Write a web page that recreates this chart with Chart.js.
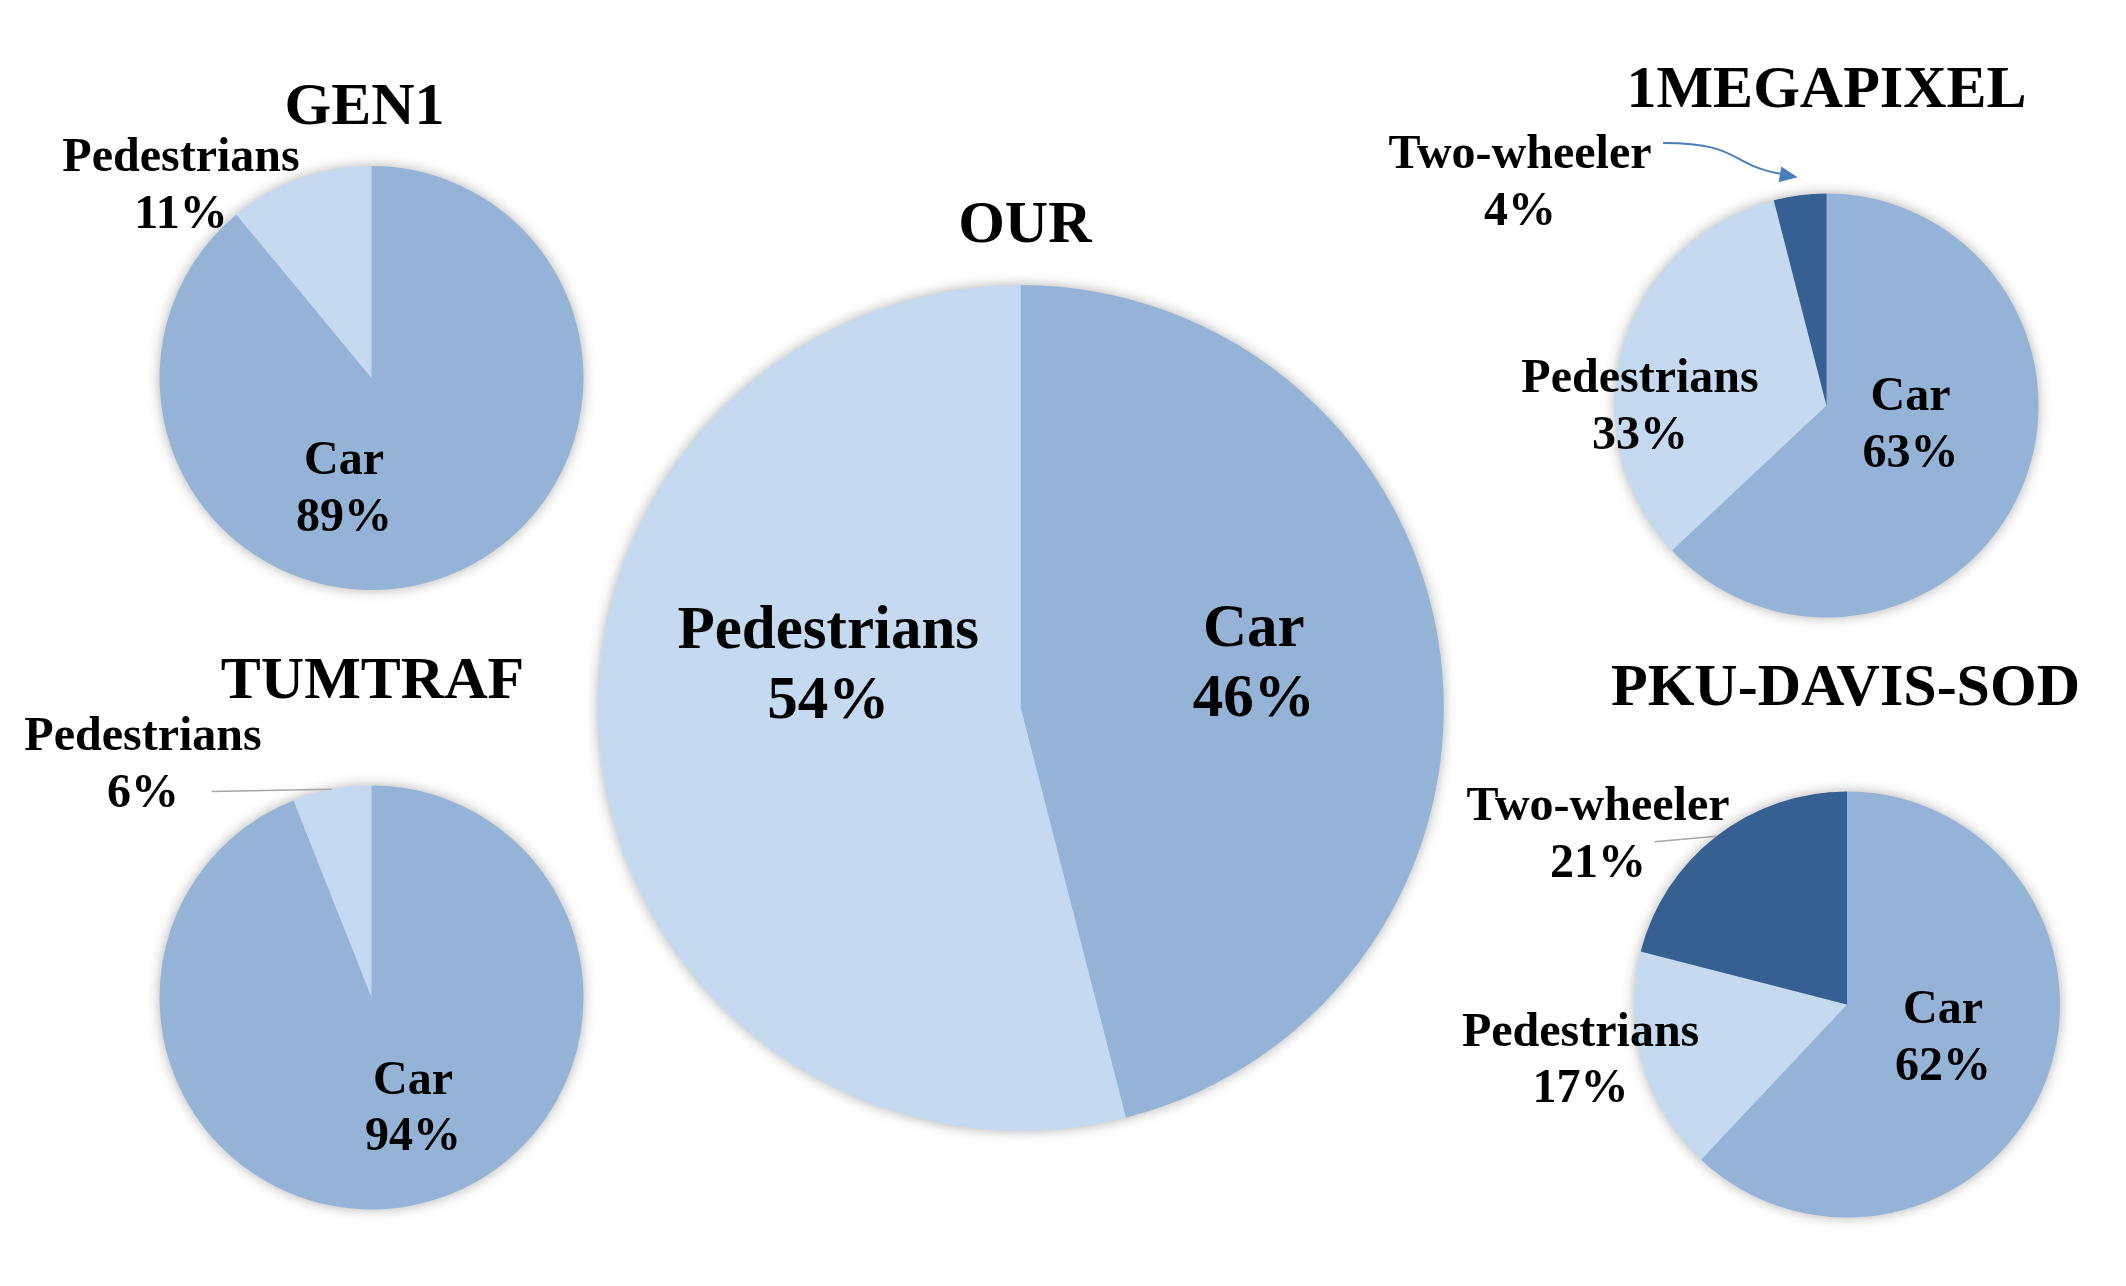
<!DOCTYPE html>
<html>
<head>
<meta charset="utf-8">
<script src="https://cdn.jsdelivr.net/npm/chart.js@4/dist/chart.umd.min.js"></script>
<style>
  html, body { margin:0; padding:0; background:#fff; }
  #page { position:relative; width:2126px; height:1286px; overflow:hidden; }
  #page canvas { position:absolute; left:0; top:0; }
</style>
</head>
<body>
<div id="page"></div>
<script>
/* ---------- data ---------- */
const categories = ["Car", "Pedestrians", "Two-wheeler"];
const datasetNames = ["GEN1", "TUMTRAF", "OUR", "1MEGAPIXEL", "PKU-DAVIS-SOD"];
const gen1Values = [89, 11];
const tumtrafValues = [94, 6];
const ourValues = [46, 54];
const megapixelValues = [63, 33, 4];
const pkuValues = [62, 17, 21];

/* ---------- look ---------- */
const W = 2126, H = 1286;
const sliceColors = ["#95B3D7", "#C5D9F1", "#366092"];
const FONT = '"Times New Roman", "Liberation Serif", serif';

// pie centre / radius, and text offsets relative to the centre
const layout = [
    { values: gen1Values, cx: 371.5, cy: 378, r: 212,
      title: [-7, -254], labels: [[-27.5, 96], [-190.5, -207]],
      font: 48, lh: 56.5, leaders: [] },
    { values: tumtrafValues, cx: 371.5, cy: 997.5, r: 212,
      title: [1, -300], labels: [[41.5, 96], [-228.5, -247.5]],
      font: 48, lh: 56.5, leaders: [{ index: 1, from: [-160, -206], pad: 0 }] },
    { values: ourValues, cx: 1020.8, cy: 708, r: 423,
      title: [4, -466], labels: [[233, -61.6], [-192.5, -60]],
      font: 61, lh: 70, leaders: [] },
    { values: megapixelValues, cx: 1826.5, cy: 405.5, r: 212,
      title: [0, -298.5], labels: [[84, 4], [-186.5, -13.5], [-306.5, -237.5]],
      font: 48, lh: 57, leaders: [{ index: 2, from: [-163.5, -262.5], pad: 18, arrow: true }] },
    { values: pkuValues, cx: 1847, cy: 1004.5, r: 213,
      title: [-1.5, -299.5], labels: [[96, 18.5], [-266.4, 41], [-249, -184.5]],
      font: 48, lh: 56.5, leaders: [{ index: 2, from: [-192.4, -162.8], pad: 0 }] }
];

/* ---------- plugin: shadow, titles, labels, leader lines ---------- */
const pieDecor = {
    id: "pieDecor",
    beforeDatasetsDraw(chart, args, o) {
        const arc = chart.getDatasetMeta(0).data[0];
        const ctx = chart.ctx;
        ctx.save();
        ctx.shadowColor = "rgba(0,0,0,0.35)";
        ctx.shadowBlur = 14;
        ctx.fillStyle = sliceColors[0];
        ctx.beginPath();
        ctx.arc(arc.x, arc.y, arc.outerRadius - 1, 0, Math.PI * 2);
        ctx.fill();
        ctx.restore();
    },
    afterDraw(chart, args, o) {
        const ctx = chart.ctx;
        const arcs = chart.getDatasetMeta(0).data;
        const cx = arcs[0].x, cy = arcs[0].y;
        ctx.save();

        // leader lines / arrow
        o.leaders.forEach(l => {
            const a = arcs[l.index];
            const mid = (a.startAngle + a.endAngle) / 2;
            const ex = cx + Math.cos(mid) * (a.outerRadius + l.pad);
            const ey = cy + Math.sin(mid) * (a.outerRadius + l.pad);
            const sx = cx + l.from[0], sy = cy + l.from[1];
            ctx.beginPath();
            if (l.arrow) {
                ctx.strokeStyle = "#4A7EBB";
                ctx.lineWidth = 2;
                ctx.moveTo(sx, sy);
                ctx.bezierCurveTo(sx + 80, sy, ex - 70, ey - 12, ex - 14, ey - 3);
                ctx.stroke();
                // arrow head
                const ang = Math.atan2(12, 70);
                ctx.fillStyle = "#4A7EBB";
                ctx.beginPath();
                ctx.moveTo(ex, ey);
                ctx.lineTo(ex - 18 * Math.cos(ang) + 8 * Math.sin(ang), ey - 18 * Math.sin(ang) - 8 * Math.cos(ang));
                ctx.lineTo(ex - 18 * Math.cos(ang) - 8 * Math.sin(ang), ey - 18 * Math.sin(ang) + 8 * Math.cos(ang));
                ctx.closePath();
                ctx.fill();
            } else {
                ctx.strokeStyle = "#A6A6A6";
                ctx.lineWidth = 1.5;
                ctx.moveTo(sx, sy);
                ctx.lineTo(ex, ey);
                ctx.stroke();
            }
        });

        ctx.fillStyle = "#000";
        ctx.textAlign = "center";
        ctx.textBaseline = "alphabetic";

        // title
        ctx.font = "bold 60px " + FONT;
        ctx.fillText(o.title, cx + o.titleAt[0], cy + o.titleAt[1]);

        // slice labels: category + percentage
        ctx.font = "bold " + o.font + "px " + FONT;
        const values = chart.data.datasets[0].data;
        values.forEach((v, i) => {
            const p = o.labels[i];
            ctx.fillText(chart.data.labels[i], cx + p[0], cy + p[1]);
            ctx.fillText(v + "%", cx + p[0], cy + p[1] + o.lh);
        });
        ctx.restore();
    }
};

/* ---------- build the five pies ---------- */
const page = document.getElementById("page");

layout.forEach((c, k) => {
    const canvas = document.createElement("canvas");
    canvas.width = W;
    canvas.height = H;
    page.appendChild(canvas);

    new Chart(canvas, {
        type: "pie",
        data: {
            labels: categories.slice(0, c.values.length),
            datasets: [{
                data: c.values,
                backgroundColor: sliceColors.slice(0, c.values.length),
                borderWidth: 0
            }]
        },
        options: {
            responsive: false,
            animation: false,
            layout: {
                padding: {
                    left: c.cx - c.r,
                    right: W - c.cx - c.r,
                    top: c.cy - c.r,
                    bottom: H - c.cy - c.r
                }
            },
            plugins: {
                legend: { display: false },
                tooltip: { enabled: false },
                pieDecor: {
                    title: datasetNames[k],
                    titleAt: c.title,
                    labels: c.labels,
                    font: c.font,
                    lh: c.lh,
                    leaders: c.leaders
                }
            }
        },
        plugins: [pieDecor]
    });
});
</script>
</body>
</html>
